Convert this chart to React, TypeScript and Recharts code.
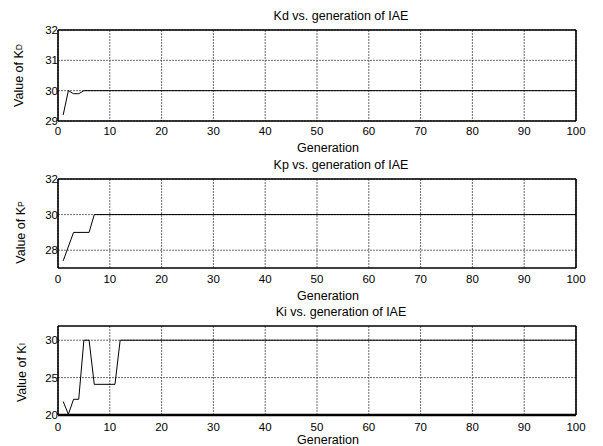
import { LineChart, Line, XAxis, YAxis, CartesianGrid, Label } from "recharts";

// generation ticks shared by all three panels
const generationTicks = [0, 10, 20, 30, 40, 50, 60, 70, 80, 90, 100];

// Kd: breakpoints, flat at 30 afterwards
const kdGenerations = [1, 2, 3, 4, 5, 100];
const kdValues = [29.2, 30, 29.9, 29.9, 30, 30];
const kdTicks = [29, 30, 31, 32];

// Kp
const kpGenerations = [1, 3, 6, 7, 100];
const kpValues = [27.4, 29, 29, 30, 30];
const kpTicks = [28, 30, 32];

// Ki
const kiGenerations = [1, 2, 3, 4, 5, 6, 7, 11, 12, 100];
const kiValues = [21.8, 20.1, 22.1, 22.1, 30, 30, 24.1, 24.1, 30, 30];
const kiTicks = [20, 25, 30];

const FONT = "'Liberation Sans', Arial, sans-serif";
const GRID = "#444";

type PanelProps = {
  top: number;
  height: number;
  margin: { top: number; right: number; bottom: number; left: number };
  gens: number[];
  values: number[];
  yDomain: [number, number];
  yTicks: number[];
  title: string;
  sub: string;
  tickMargin: number;
  genDy: number;
  yLabelX: number;
  yLabelDy: number;
  bottomWidth?: number;
};

function Panel(p: PanelProps) {
  const data = p.gens.map((g, i) => ({ gen: g, value: p.values[i] }));

  return (
    <div style={{ position: "absolute", left: 0, top: p.top }}>
      <LineChart width={603} height={p.height} data={data} margin={p.margin} style={{ overflow: "visible" }}>
        <CartesianGrid
          stroke={GRID}
          strokeWidth={0.8}
          strokeDasharray="2 1"
          horizontalValues={p.yTicks}
          verticalValues={generationTicks}
        />
        <XAxis
          dataKey="gen"
          type="number"
          domain={[0, 100]}
          ticks={generationTicks}
          height={30}
          tickSize={0}
          tickMargin={p.tickMargin}
          tickLine={false}
          axisLine={{ stroke: "#000", strokeWidth: p.bottomWidth ?? 1.6 }}
          tick={{ fill: "#000", fontSize: 11.5, fontFamily: FONT }}
          interval={0}
        >
          <Label
            content={(props: any) => {
              const vb = props.viewBox || {};
              return (
                <text x={328} y={vb.y + p.genDy} textAnchor="middle" fontSize={12.5} fontFamily={FONT} fill="#000">
                  Generation
                </text>
              );
            }}
          />
        </XAxis>
        <XAxis
          xAxisId="top"
          orientation="top"
          dataKey="gen"
          type="number"
          domain={[0, 100]}
          height={1}
          tick={false}
          tickLine={false}
          axisLine={{ stroke: "#000", strokeWidth: 1.6 }}
        >
          <Label
            content={(props: any) => {
              const vb = props.viewBox || {};
              return (
                <text x={341} y={vb.y + vb.height - 10} textAnchor="middle" fontSize={12.5} fontFamily={FONT} fill="#000">
                  {p.title}
                </text>
              );
            }}
          />
        </XAxis>
        <YAxis
          type="number"
          domain={p.yDomain}
          ticks={p.yTicks}
          width={30}
          tickSize={0}
          tickMargin={0}
          tickLine={false}
          allowDataOverflow
          axisLine={{ stroke: "#000", strokeWidth: 1.6 }}
          tick={{ fill: "#000", fontSize: 11.5, fontFamily: FONT }}
          interval={0}
        >
          <Label
            content={(props: any) => {
              const vb = props.viewBox || {};
              const cy = vb.y + vb.height / 2 + p.yLabelDy;
              return (
                <text
                  x={p.yLabelX}
                  y={cy}
                  transform={`rotate(-90, ${p.yLabelX}, ${cy})`}
                  textAnchor="middle"
                  dominantBaseline="central"
                  fontSize={12.5}
                  fontFamily={FONT}
                  fill="#000"
                >
                  Value of K<tspan fontSize={8.5}>{p.sub}</tspan>
                </text>
              );
            }}
          />
        </YAxis>
        <YAxis
          yAxisId="right"
          orientation="right"
          type="number"
          domain={p.yDomain}
          width={1}
          tick={false}
          tickLine={false}
          axisLine={{ stroke: "#000", strokeWidth: 1.6 }}
        />
        <Line
          type="linear"
          dataKey="value"
          stroke="#000"
          strokeWidth={1}
          dot={false}
          isAnimationActive={false}
        />
      </LineChart>
    </div>
  );
}

export default function App() {
  return (
    <div style={{ position: "absolute", left: 0, top: 0, width: 603, height: 446, background: "#fff" }}>
      <Panel
        top={0}
        height={156}
        margin={{ top: 29, right: 26, bottom: 5, left: 28 }}
        gens={kdGenerations}
        values={kdValues}
        yDomain={[29, 32]}
        yTicks={kdTicks}
        title="Kd vs. generation of IAE"
        sub="D"
        tickMargin={6}
        genDy={31}
        yLabelX={19}
        yLabelDy={0}
      />
      <Panel
        top={155}
        height={148}
        margin={{ top: 23, right: 26, bottom: 5, left: 28 }}
        gens={kpGenerations}
        values={kpValues}
        yDomain={[27, 32]}
        yTicks={kpTicks}
        title="Kp vs. generation of IAE"
        sub="P"
        tickMargin={7}
        genDy={32}
        yLabelX={21}
        yLabelDy={9}
      />
      <Panel
        top={303}
        height={143}
        margin={{ top: 22, right: 26, bottom: 1, left: 28 }}
        gens={kiGenerations}
        values={kiValues}
        yDomain={[20, 31.9]}
        yTicks={kiTicks}
        title="Ki vs. generation of IAE"
        sub="I"
        tickMargin={8}
        genDy={28.5}
        yLabelX={22}
        yLabelDy={2}
        bottomWidth={2.6}
      />
    </div>
  );
}
